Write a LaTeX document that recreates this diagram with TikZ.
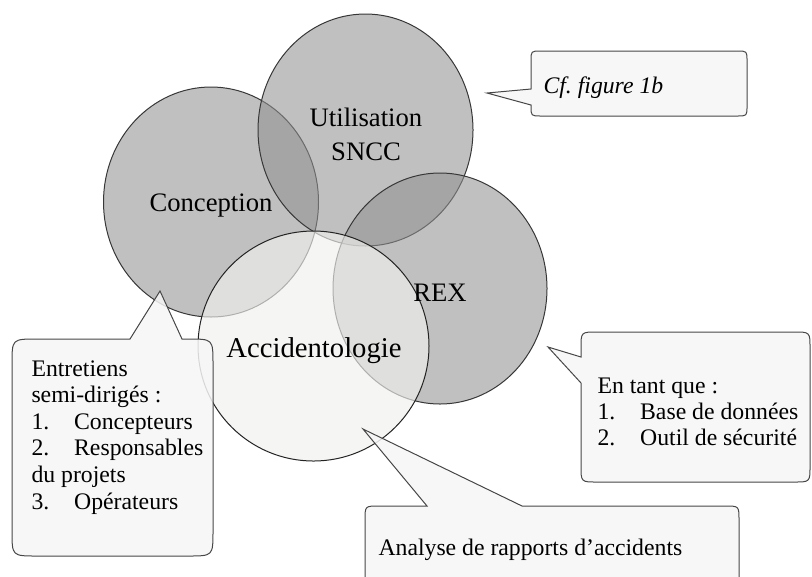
\documentclass[tikz,border=0pt]{standalone}
\usepackage{fontspec}
\setmainfont{Liberation Serif}

\tikzset{every picture/.style={line width=0.75pt}}
\tikzset{
  venn/.style={draw={rgb, 255:red, 55; green, 55; blue, 55 }, fill={rgb, 255:red, 145; green, 145; blue, 145 }, fill opacity=0.57},
  accid/.style={draw={rgb, 255:red, 35; green, 35; blue, 35 }, fill={rgb, 255:red, 240; green, 240; blue, 237 }, fill opacity=0.65},
  callout/.style={draw={rgb, 255:red, 70; green, 70; blue, 70 }, fill={rgb, 255:red, 246; green, 246; blue, 246 }, fill opacity=0.85},
  bigtext/.style={inner sep=0.75pt, font=\fontsize{20}{25.5}\selectfont, align=center},
  notetext/.style={inner sep=0pt, font=\fontsize{17.8}{19.9}\selectfont, align=left, anchor=base west}
}
\newcommand{\itm}[1]{\makebox[32pt][l]{#1}}

\begin{document}
\begin{tikzpicture}[x=0.75pt,y=0.75pt,yscale=-1,xscale=1]
		\useasboundingbox (0,0) rectangle (812,576);
		\clip (0,0) rectangle (812,576);

		%Shape: Ellipse [Conception]
		\draw [venn] (211,202) ellipse [x radius=107.5, y radius=115];
		%Shape: Ellipse [Utilisation SNCC]
		\draw [venn] (365.5,130) ellipse [x radius=107.5, y radius=116];
		%Shape: Ellipse [REX]
		\draw [venn] (440,288.5) ellipse [x radius=107, y radius=115.5];
		%Shape: Circle [Accidentologie]
		\draw [accid] (313.5,346) ellipse [x radius=115.5, y radius=115];

		%Shape: Callout [Cf. figure 1b]
		\draw [callout] (487,93) -- (531,105) -- (531,106) .. controls (531,116) .. (541,116) -- (737,116) .. controls (747,116) .. (747,106) -- (747,61) .. controls (747,51) .. (737,51) -- (541,51) .. controls (531,51) .. (531,61) -- (531,89) -- cycle ;
		%Shape: Callout [Entretiens]
		\draw [callout] (160,291) -- (182,339) -- (188,339) .. controls (213,339) .. (213,364) -- (213,531) .. controls (213,556) .. (188,556) -- (37,556) .. controls (12,556) .. (12,531) -- (12,364) .. controls (12,339) .. (37,339) -- (130,339) -- cycle ;
		%Shape: Callout [En tant que]
		\draw [callout] (548,347) -- (581,383) -- (581,466) .. controls (581,482) .. (597,482) -- (794,482) .. controls (810,482) .. (810,466) -- (810,348) .. controls (810,332) .. (794,332) -- (597,332) .. controls (581,332) .. (581,348) -- (581,357) -- cycle ;
		%Shape: Callout [Analyse]
		\draw [callout] (363,429) -- (522,506) -- (725,506) .. controls (739,506) .. (739,520) -- (739,581) .. controls (739,595) .. (725,595) -- (379,595) .. controls (365,595) .. (365,581) -- (365,520) .. controls (365,506) .. (379,506) -- (427,506) -- cycle ;

		% Text Node
		\node [bigtext] (utilisation) at (366,134) {Utilisation\\SNCC};
		% Text Node
		\node [bigtext] (conception) at (211,206) {Conception};
		% Text Node
		\node [bigtext] (rex) at (440,293) {REX};
		% Text Node
		\node [bigtext, font=\fontsize{21.5}{26}\selectfont] (accident) at (314,351) {Accidentologie};
		% Text Node
		\node [notetext] (cfnote) at (543,93) {\textit{Cf.~figure 1b}};
		% Text Node
		\node [notetext] (entretiens) at (31,509) {Entretiens\\semi-dirigés :\\\itm{1.}Concepteurs\\\itm{2.}Responsables\\du projets\\\itm{3.}Opérateurs};
		% Text Node
		\node [notetext, font=\fontsize{17.8}{19.5}\selectfont] (entantque) at (597,445) {En tant que :\\\itm{1.}Base de données\\\itm{2.}Outil de sécurité};
		% Text Node
		\node [notetext] (analyse) at (378,555) {Analyse de rapports d’accidents};

\end{tikzpicture}
\end{document}
